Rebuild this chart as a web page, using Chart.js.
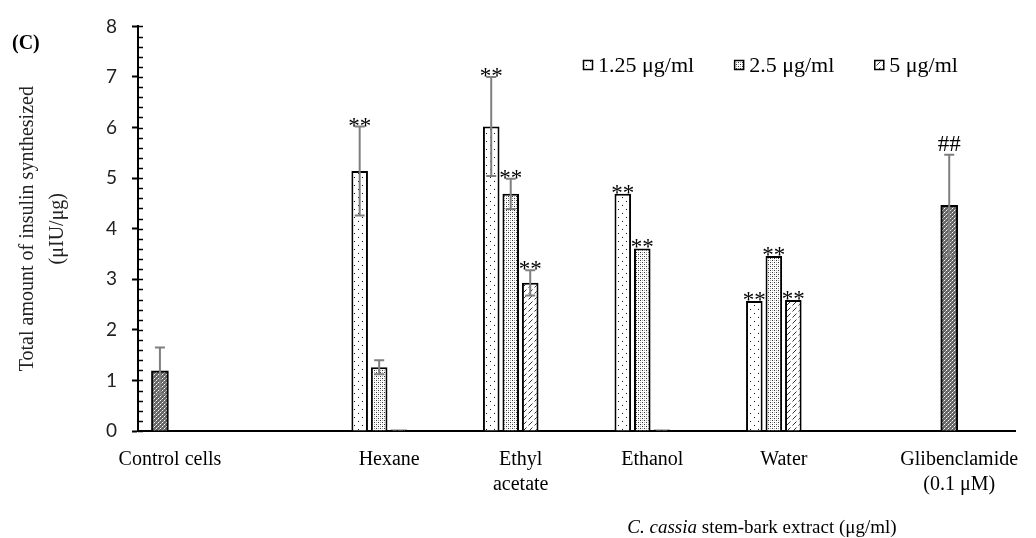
<!DOCTYPE html>
<html>
<head>
<meta charset="utf-8">
<script src="https://cdn.jsdelivr.net/npm/chart.js@4.4.1/dist/chart.umd.min.js"></script>
<style>
    html, body { margin: 0; padding: 0; background: #fff; }
    #wrap { width: 1036px; height: 538px; position: relative; }
</style>
</head>
<body>
<div id="wrap"><canvas id="insulinChart"></canvas></div>
<script>
/*====================================
        Insulin synthesis chart data
====================================*/

const categories = ["Control cells", "Hexane", ["Ethyl", "acetate"], "Ethanol", "Water", ["Glibenclamide", "(0.1 μM)"]];

const controlValues = [1.19, null, null, null, null, null];
const controlErrors = [0.46, null, null, null, null, null];
const controlMarks  = ["", "", "", "", "", ""];

const conc125Values = [null, 5.14, 6.02, 4.69, 2.57, null];
const conc125Errors = [null, 0.88, 0.98, 0, 0, null];
const conc125Marks  = ["", "**", "**", "**", "**", ""];

const conc25Values = [null, 1.26, 4.69, 3.61, 3.46, null];
const conc25Errors = [null, 0.14, 0.30, 0, 0, null];
const conc25Marks  = ["", "", "**", "**", "**", ""];

const conc5Values = [null, 0.03, 2.93, 0.03, 2.59, null];
const conc5Errors = [null, 0, 0.25, 0, 0, null];
const conc5Marks  = ["", "", "**", "", "**", ""];

const glibValues = [null, null, null, null, null, 4.46];
const glibErrors = [null, null, null, null, null, 1.0];
const glibMarks  = ["", "", "", "", "", "##"];

const seriesNames = ["1.25 μg/ml", "2.5 μg/ml", "5 μg/ml"];

const yMin = 0;
const yMax = 8;

/*====================================
        Spacer categories
   (the groups are not evenly spaced in the figure,
    so the axis has blank slots between them)
====================================*/

const slotCount = 20;
const slotOfCategory = [0, 5, 8, 11, 14, 18];

function spread(list, blank) {
    const out = new Array(slotCount).fill(blank);
    slotOfCategory.forEach((slot, k) => { out[slot] = list[k]; });
    return out;
}

/*====================================
        Fill patterns
====================================*/

const canvas = document.getElementById("insulinChart");
const ctx = canvas.getContext("2d");

function makePattern(size, draw) {
    const tile = document.createElement("canvas");
    tile.width = size;
    tile.height = size;
    const g = tile.getContext("2d");
    draw(g);
    return ctx.createPattern(tile, "repeat");
}

const sparseDots = makePattern(8, g => {
    g.fillStyle = "#fff";
    g.fillRect(0, 0, 8, 8);
    g.fillStyle = "#111";
    g.fillRect(2, 1, 1, 1);
    g.fillRect(6, 5, 1, 1);
});

const denseDots = makePattern(4, g => {
    g.fillStyle = "#fff";
    g.fillRect(0, 0, 4, 4);
    g.fillStyle = "#333";
    g.fillRect(0, 0, 1, 1);
    g.fillRect(2, 2, 1, 1);
    g.fillStyle = "#aaa";
    g.fillRect(2, 0, 1, 1);
    g.fillRect(0, 2, 1, 1);
});

const hatch = makePattern(6, g => {
    g.fillStyle = "#fff";
    g.fillRect(0, 0, 6, 6);
    g.strokeStyle = "#333";
    g.lineWidth = 1;
    g.beginPath();
    g.moveTo(0.5, 5.5);
    g.lineTo(4.5, 1.5);
    g.stroke();
});

const darkCheck = makePattern(4, g => {
    g.fillStyle = "#666";
    g.fillRect(0, 0, 4, 4);
    g.fillStyle = "#fff";
    g.fillRect(0, 0, 1, 1);
    g.fillRect(2, 2, 1, 1);
    g.fillStyle = "#aaa";
    g.fillRect(1, 3, 1, 1);
    g.fillRect(3, 1, 1, 1);
});

/*====================================
        Plugins
====================================*/

const serif = "'Liberation Serif', 'Times New Roman', serif";

const minorTicks = {
    id: "minorTicks",
    afterDraw(chart) {
        const y = chart.scales.y;
        const left = chart.chartArea.left;
        const c = chart.ctx;
        c.save();
        c.strokeStyle = "#000";
        c.lineWidth = 1.5;
        for (let i = yMin * 5; i <= yMax * 5; i++) {
            const py = Math.round(y.getPixelForValue(i / 5)) + 0.5;
            c.beginPath();
            c.moveTo(left, py);
            c.lineTo(left + 5, py);
            c.stroke();
        }
        c.restore();
    }
};

const errorBars = {
    id: "errorBars",
    afterDatasetsDraw(chart) {
        const c = chart.ctx;
        const y = chart.scales.y;
        c.save();
        chart.data.datasets.forEach((ds, di) => {
            const meta = chart.getDatasetMeta(di);
            meta.data.forEach((bar, i) => {
                const v = ds.data[i];
                if (v === null) return;
                const err = ds.errors[i] || 0;
                let top = y.getPixelForValue(v);
                if (err > 0) {
                    const hi = y.getPixelForValue(v + err);
                    const lo = y.getPixelForValue(v - err);
                    c.strokeStyle = "#7f7f7f";
                    c.lineWidth = 2;
                    c.beginPath();
                    c.moveTo(bar.x, hi);
                    c.lineTo(bar.x, lo);
                    c.moveTo(bar.x - 5, hi);
                    c.lineTo(bar.x + 5, hi);
                    c.moveTo(bar.x - 5, lo);
                    c.lineTo(bar.x + 5, lo);
                    c.stroke();
                    top = hi;
                }
                const mark = ds.marks[i];
                if (mark) {
                    c.fillStyle = "#000";
                    c.textAlign = "center";
                    c.textBaseline = "alphabetic";
                    c.font = "23px " + serif;
                    const offset = mark === "##" ? -4 : 6;
                    c.fillText(mark, bar.x, top + offset);
                }
            });
        });
        c.restore();
    }
};

const extraText = {
    id: "extraText",
    afterDraw(chart) {
        const c = chart.ctx;
        c.save();
        c.fillStyle = "#000";

        // panel letter
        c.font = "bold 20px " + serif;
        c.textAlign = "left";
        c.textBaseline = "middle";
        c.fillText("(C)", 12, 44);

        // x axis title with italic species name
        c.font = "italic 19px " + serif;
        const part1 = "C. cassia";
        const w1 = c.measureText(part1).width;
        c.font = "19px " + serif;
        const part2 = " stem-bark extract (μg/ml)";
        const w2 = c.measureText(part2).width;
        const cx = 762;
        const by = 533;
        c.textBaseline = "alphabetic";
        c.font = "italic 19px " + serif;
        c.fillText(part1, cx - (w1 + w2) / 2, by);
        c.font = "19px " + serif;
        c.fillText(part2, cx - (w1 + w2) / 2 + w1, by);

        // legend
        let x = 583;
        const ly = 65;
        c.font = "22px " + serif;
        chart.data.datasets.filter(ds => ds.inLegend).forEach(ds => {
            c.fillStyle = ds.backgroundColor;
            c.fillRect(x, ly - 5, 10, 10);
            c.strokeStyle = "#000";
            c.lineWidth = 1.5;
            c.strokeRect(x + 0.5, ly - 4.5, 9, 9);
            c.fillStyle = "#000";
            c.textBaseline = "middle";
            c.fillText(ds.label, x + 15, ly + 1);
            x += 15 + c.measureText(ds.label).width + 40;
        });
        c.restore();
    }
};

/*====================================
        Chart
====================================*/

function groupedSet(label, values, errors, marks, fill) {
    return {
        label: label,
        data: spread(values, null),
        errors: spread(errors, null),
        marks: spread(marks, ""),
        inLegend: true,
        backgroundColor: fill,
        borderColor: "#000",
        borderWidth: 2,
        categoryPercentage: 1.334,
        barPercentage: 0.85
    };
}

function singleSet(label, values, errors, marks, fill) {
    return {
        label: label,
        data: spread(values, null),
        errors: spread(errors, null),
        marks: spread(marks, ""),
        inLegend: false,
        grouped: false,
        barThickness: 17,
        backgroundColor: fill,
        borderColor: "#000",
        borderWidth: 2
    };
}

new Chart(canvas, {
    type: "bar",
    data: {
        labels: spread(categories, ""),
        datasets: [
            groupedSet(seriesNames[0], conc125Values, conc125Errors, conc125Marks, sparseDots),
            groupedSet(seriesNames[1], conc25Values, conc25Errors, conc25Marks, denseDots),
            groupedSet(seriesNames[2], conc5Values, conc5Errors, conc5Marks, hatch),
            singleSet("Control cells", controlValues, controlErrors, controlMarks, darkCheck),
            singleSet("Glibenclamide", glibValues, glibErrors, glibMarks, darkCheck)
        ]
    },
    options: {
        responsive: true,
        maintainAspectRatio: false,
        animation: false,
        devicePixelRatio: 1,
        layout: { padding: { left: 0, top: 22, right: 21, bottom: 0 } },
        plugins: {
            legend: { display: false },
            tooltip: { enabled: false }
        },
        scales: {
            x: {
                offset: true,
                grid: { display: false, drawTicks: false },
                border: { display: true, color: "#000", width: 2 },
                ticks: {
                    font: { family: serif, size: 20, lineHeight: 1.25 },
                    color: "#000",
                    padding: 16,
                    labelOffset: 10,
                    maxRotation: 0,
                    autoSkip: false
                },
                afterFit: s => { s.height = 107; }
            },
            y: {
                min: yMin,
                max: yMax,
                ticks: {
                    stepSize: 1,
                    font: { family: "Lato", size: 19 },
                    color: "#222",
                    padding: 15
                },
                grid: {
                    drawOnChartArea: false,
                    drawTicks: true,
                    tickLength: 6,
                    tickColor: "#000",
                    tickWidth: 2
                },
                border: { display: true, color: "#000", width: 2 },
                title: {
                    display: true,
                    text: ["Total amount of insulin synthesized", "(μIU/μg)"],
                    font: { family: serif, size: 20, lineHeight: 1.5 },
                    color: "#222",
                    padding: { top: 13, bottom: 0 }
                },
                afterFit: s => { s.width = 138; }
            }
        }
    },
    plugins: [minorTicks, errorBars, extraText]
});
</script>
</body>
</html>
